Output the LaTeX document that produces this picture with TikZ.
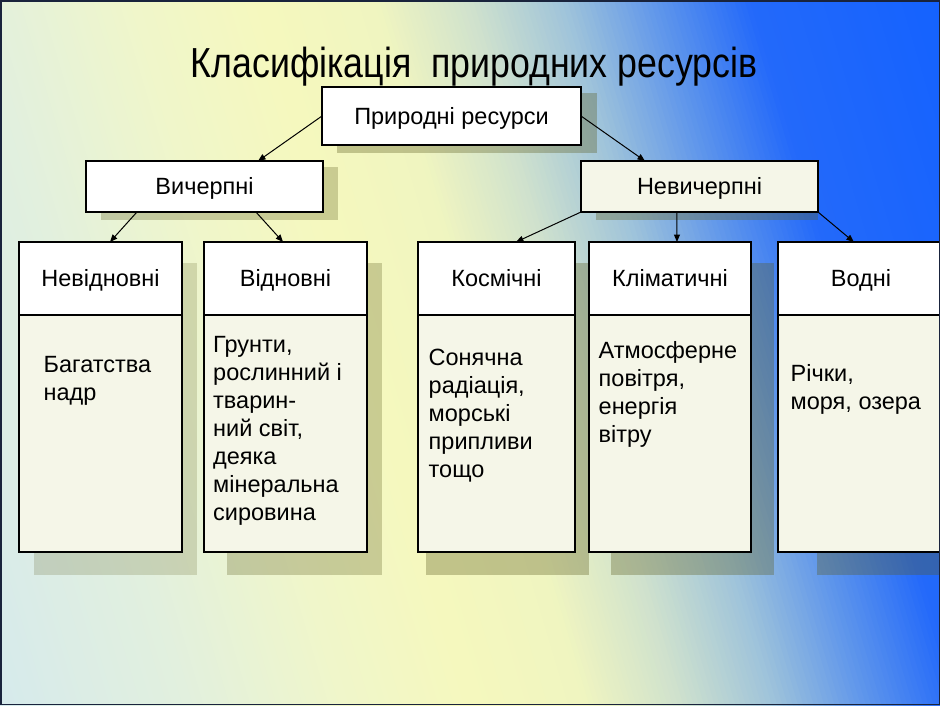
\documentclass[tikz,border=0pt]{standalone}
\usepackage{fontspec}
\setmainfont{Liberation Sans}
\newfontfamily\titlefont[FakeStretch=0.85]{Liberation Sans}
\usetikzlibrary{arrows.meta,calc}
\definecolor{g0}{RGB}{214,234,236}
\definecolor{g1}{RGB}{226,240,222}
\definecolor{g2}{RGB}{240,246,202}
\definecolor{g3}{RGB}{245,248,190}
\definecolor{g4}{RGB}{240,245,192}
\definecolor{g5}{RGB}{208,226,205}
\definecolor{g6}{RGB}{160,196,218}
\definecolor{g7}{RGB}{95,150,235}
\definecolor{g8}{RGB}{35,105,250}
\definecolor{g9}{RGB}{20,98,255}
\definecolor{cream}{RGB}{245,246,232}
\definecolor{shad}{RGB}{90,90,30}
\definecolor{framec}{RGB}{25,35,60}
\begin{document}
\begin{tikzpicture}[x=1pt,y=-1pt,
  box/.style={draw=black, line width=1.1pt, fill=white, inner sep=0pt, outer sep=0pt, anchor=north west, text height=20pt, text depth=4pt, font=\fontsize{23.5}{28}\selectfont},
  body/.style={draw=black, line width=1.1pt, fill=cream, inner sep=0pt, outer sep=0pt, anchor=north west},
  txt/.style={anchor=north west, inner sep=0pt, align=left, font=\fontsize{23.5}{28}\selectfont},
  link/.style={line width=1pt, -{Triangle[length=7.5pt,width=6pt]}},
  shadowbox/.style={fill=shad, opacity=0.33}]
\useasboundingbox (0,0) rectangle (940,705);
% background gradient
\begin{scope}
\clip (0,0) rectangle (940,705);
\fill[g9] (0,0) rectangle (940,705);
\begin{scope}[shift={(0,705)}, rotate=16.6]
\foreach \sa/\sb/\ca/\cb in {0/180/g0/g1, 180/330/g1/g2, 330/450/g2/g3, 450/560/g3/g4, 560/650/g4/g5, 650/740/g5/g6, 740/830/g6/g7, 830/920/g7/g8, 920/1110/g8/g9}{
  \pgfmathtruncatemacro\nn{(\sb-\sa)/5}
  \foreach \k in {1,...,\nn}{
    \pgfmathsetmacro\xa{\sa+(\k-1)*5}
    \pgfmathsetmacro\pp{100*(\k-0.5)/\nn}
    \fill[\cb!\pp!\ca] (\xa,-1500) rectangle ({\xa+6},1500);
  }
}
\end{scope}
\end{scope}
% shadows
\fill[shadowbox] (337,93) rectangle (597,153);
\fill[shadowbox, opacity=0.28] (101,167) rectangle (338,220);
\fill[shadowbox] (596,167) rectangle (818,220);
\fill[shadowbox, opacity=0.2] (34,263) rectangle (197,575);
\fill[shadowbox, opacity=0.28] (227,263) rectangle (382,575);
\fill[shadowbox] (426,263) rectangle (589,575);
\fill[shadowbox] (611,263) rectangle (774,575);
\fill[shadowbox] (817,263) rectangle (960,575);
% title
\node[font=\titlefont\fontsize{42}{50}\selectfont, anchor=base, inner sep=0pt] (T) at (474,77) {Класифікація\ \ природних ресурсів};
% top level
\node[box, minimum width=259pt, minimum height=58pt] (P) at (322,87) {Природні ресурси};
\node[box, minimum width=237pt, minimum height=51pt] (V) at (86,161) {Вичерпні};
\node[box, fill=cream, minimum width=237pt, minimum height=51pt] (N) at (581,161) {Невичерпні};
% bottom boxes
\node[body, minimum width=163pt, minimum height=237pt] (B1) at (19,315) {};
\node[box, minimum width=163pt, minimum height=73pt] (H1) at (19,242) {Невідновні};
\node[body, minimum width=163pt, minimum height=237pt] (B2) at (204,315) {};
\node[box, minimum width=163pt, minimum height=73pt] (H2) at (204,242) {Відновні};
\node[body, minimum width=157pt, minimum height=237pt] (B3) at (418,315) {};
\node[box, minimum width=157pt, minimum height=73pt] (H3) at (418,242) {Космічні};
\node[body, minimum width=162pt, minimum height=237pt] (B4) at (589,315) {};
\node[box, minimum width=162pt, minimum height=73pt] (H4) at (589,242) {Кліматичні};
\node[body, minimum width=166pt, minimum height=237pt] (B5) at (778,315) {};
\node[box, minimum width=166pt, minimum height=73pt] (H5) at (778,242) {Водні};
% body texts
\node[txt] (t1) at (43.5,352) {\rule{0pt}{20pt}Багатства\\надр};
\node[txt] (t2) at (213,332) {\rule{0pt}{20pt}Грунти,\\рослинний і\\тварин-\\ний світ,\\деяка\\мінеральна\\сировина};
\node[txt] (t3) at (428.5,345) {\rule{0pt}{20pt}Сонячна\\радіація,\\морські\\припливи\\тощо};
\node[txt] (t4) at (598.5,338) {\rule{0pt}{20pt}Атмосферне\\повітря,\\енергія\\вітру};
\node[txt] (t5) at (790.5,361) {\rule{0pt}{20pt}Річки,\\моря, озера};
% connectors
\draw[link] (P.west) -- ($(V.north west)!0.726!(V.north east)$);
\draw[link] (P.east) -- ($(N.north west)!0.27!(N.north east)$);
\draw[link] ($(V.south west)!0.215!(V.south east)$) -- ($(H1.north west)!0.558!(H1.north east)$);
\draw[link] ($(V.south west)!0.717!(V.south east)$) -- ($(H2.north west)!0.485!(H2.north east)$);
\draw[link] (N.south west) -- ($(H3.north west)!0.624!(H3.north east)$);
\draw[link] ($(N.south west)!0.405!(N.south east)$) -- ($(H4.north west)!0.543!(H4.north east)$);
\draw[link] (N.south east) -- ($(H5.north west)!0.457!(H5.north east)$);
% frame
\draw[framec, line width=1.5pt] (0.75,0.75) rectangle (939.25,704.25);
\end{tikzpicture}
\end{document}
